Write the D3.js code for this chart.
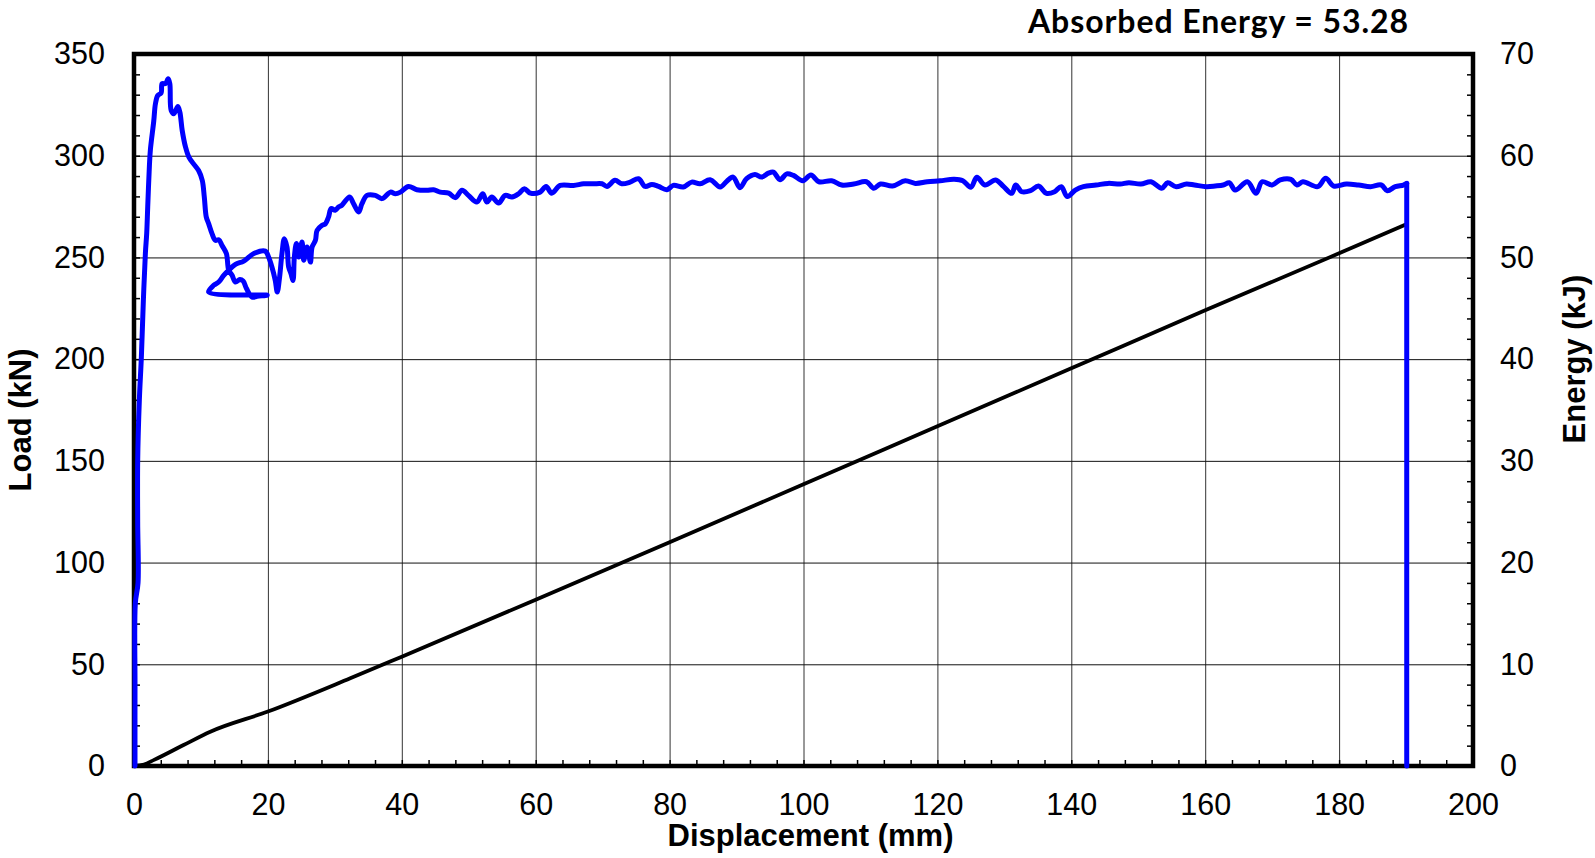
<!DOCTYPE html>
<html>
<head>
<meta charset="utf-8">
<script src="https://cdn.jsdelivr.net/npm/d3@7"></script>
<style>
  html, body { margin: 0; padding: 0; background: #fff; }
  svg { display: block; }
  .tick text { font-family: "Liberation Sans", Arial, sans-serif; }
</style>
</head>
<body>
<svg id="chart" width="1595" height="858"></svg>
<script>
// Load–displacement record (mm, kN)
const displacement = [
  0.15, 0.15, 0.2, 0.6, 0.55, 0.55, 0.8, 1.1, 1.4, 1.7, 1.9, 2.05, 2.3, 2.45, 2.95, 3.2, 3.55, 4.05, 4.2, 4.7,
  5.1, 5.35, 5.55, 5.95, 6.55, 6.85, 7.2, 7.7, 8.2, 8.9, 9.65, 10.2, 10.5, 10.8, 11.15, 11.65, 12.15, 12.65, 13.15, 13.8,
  14.15, 14.65, 15.15, 15.8, 16.3, 16.8, 17.65, 18.4, 19.9, 11.15, 11.9, 12.65, 13.4, 14.15, 15.15, 16.4, 17.9, 19.6, 20.1, 20.6,
  21.1, 21.4, 21.75, 22.1, 22.45, 22.85, 23.1, 23.45, 23.75, 23.95, 24.25, 24.6, 25.1, 25.35, 25.85, 26.35, 26.6, 27.1, 27.35, 28.1,
  28.6, 29.05, 29.45, 30.05, 30.55, 31.05, 32.2, 32.8, 33.55, 34.05, 34.8, 36.05, 37.05, 38.3, 39.05, 39.8, 41, 42.25, 43.75, 44.75,
  45.75, 47, 48, 49, 49.95, 51.2, 52.1, 52.7, 53.45, 54.45, 55.45, 56.45, 57.45, 58.3, 59.2, 60.65, 61.55, 62.4, 63.65, 65.65,
  67.15, 68.65, 69.9, 70.65, 71.85, 72.85, 74.1, 75.35, 76.35, 77.35, 78.35, 79.6, 80.55, 82.05, 83.3, 84.55, 86.05, 87.55, 88.55, 89.5,
  90.5, 91.5, 92.75, 93.75, 94.75, 95.5, 96.5, 97.5, 98.5, 99.9, 101.1, 102.3, 104.2, 105.7, 107.5, 109.4, 110.5, 111.5, 113.3, 115.2,
  116.7, 118.5, 120.4, 122.5, 123.8, 125, 125.9, 127.1, 128.7, 129.9, 131.1, 131.7, 132.6, 133.9, 135.1, 136.3, 137.5, 138.5, 139.4, 140.6,
  141.8, 143.7, 145.5, 147.3, 148.6, 150.4, 151.9, 153.5, 154.4, 155.6, 157.2, 158.4, 160.2, 161.5, 162.7, 163.6, 164.5, 166.3, 167.6, 168.5,
  170, 171.2, 172.8, 173.7, 174.6, 176.8, 178, 179.2, 181.1, 182.9, 184.7, 186.3, 187.2, 188.4, 189.6, 190.1, 190.1
];
const load = [
  0, 40, 80, 90, 120, 150, 180, 201, 229, 252, 262, 275, 295, 303, 317, 325.5, 329.6, 330.8, 335.4, 335.4,
  337.8, 335.4, 322.3, 320.6, 324.2, 321.4, 312.4, 304.2, 299.3, 296, 292.7, 287.8, 279.7, 269.8, 266.6, 261.7, 258.4, 258.7, 255.9, 251.9,
  243.7, 241.2, 237.9, 239.1, 238.4, 234.7, 230.5, 230.9, 231.4, 233, 236.3, 237.9, 241.2, 243.7, 246.6, 248.2, 251.9, 253.1, 250.2, 245.3,
  238.7, 233, 240.4, 251.9, 259.2, 255.1, 245.3, 242, 238.7, 250.2, 256.8, 250.2, 257.6, 248.6, 255.1, 247.7, 255.1, 258.4, 263.3, 265.8,
  266.6, 269.8, 274, 273.2, 274.8, 275.7, 279.7, 276.4, 272.3, 276.4, 280.5, 280.5, 278.9, 282.1, 281.3, 282.1, 284.9, 283.3, 283, 283.3,
  282.1, 281.6, 279.4, 283, 280.5, 277.2, 281.3, 277.2, 279.7, 276.7, 280.5, 279.7, 281.3, 283.8, 281.6, 282.1, 284.9, 281.6, 285.4, 285.4,
  286.2, 286.2, 286.2, 284.9, 287.9, 286.2, 287, 288.7, 284.9, 285.9, 284.9, 283.3, 285.4, 284.6, 287, 286.2, 288.2, 284.6, 287.5, 289.5,
  284.3, 288.7, 290.8, 289.5, 291.4, 291.9, 288.2, 291.1, 290.3, 287.7, 290.5, 287.2, 287.7, 285.6, 286.1, 287.2, 284, 286.1, 285.1, 287.7,
  286.4, 287.2, 287.7, 288.4, 287.7, 284.5, 289.4, 285.6, 288.1, 284.8, 281.5, 285.6, 282.3, 282.8, 285.1, 281.5, 282.3, 284.8, 279.9, 283.1,
  284.8, 285.6, 286.4, 286.1, 286.7, 286.1, 287.2, 284, 286.7, 284.8, 286.1, 285.6, 284.8, 285.1, 285.6, 286.7, 283.1, 287.2, 281.5, 287.2,
  285.6, 288.1, 288.4, 285.6, 287.2, 284.8, 288.9, 285.1, 286.1, 285.6, 284.8, 285.6, 282.8, 284.8, 285.6, 286.4, 0
];

// Absorbed energy (kJ) against displacement (mm)
const energyDisp = [0, 1.5, 3, 7.4, 11.4, 20, 32.3, 40, 60, 80, 100, 120, 140, 160, 180, 190.1];
const energy     = [0, 0.15, 0.6, 2.06, 3.37, 5.35, 8.62, 10.75, 16.35, 22.0, 27.7, 33.4, 39.1, 44.8, 50.4, 53.28];

const absorbedEnergy = 53.28;

// Axis ticks
const xMajor = [0, 20, 40, 60, 80, 100, 120, 140, 160, 180, 200];
const loadMajor = [0, 50, 100, 150, 200, 250, 300, 350];
const energyMajor = [0, 10, 20, 30, 40, 50, 60, 70];

// Plot frame
const L = 134, T = 54, R = 1473, B = 766;
const W = R - L, H = B - T;

const x = d3.scaleLinear().domain([0, 200]).range([0, W]);
const yLoad = d3.scaleLinear().domain([0, 350]).range([H, 0]);
const yEnergy = d3.scaleLinear().domain([0, 70]).range([H, 0]);

const svg = d3.select("#chart");
const g = svg.append("g").attr("transform", `translate(${L},${T})`);

// Grid lines
g.append("g")
  .attr("transform", `translate(0,${H})`)
  .call(d3.axisBottom(x).tickValues(xMajor.slice(1, -1)).tickSize(-H).tickFormat(""))
  .call(s => s.select(".domain").remove())
  .call(s => s.selectAll("line").attr("stroke", "#333").attr("stroke-width", 1));
g.append("g")
  .call(d3.axisLeft(yLoad).tickValues(loadMajor.slice(1, -1)).tickSize(-W).tickFormat(""))
  .call(s => s.select(".domain").remove())
  .call(s => s.selectAll("line").attr("stroke", "#111").attr("stroke-width", 1));

// Minor ticks pointing inward
const minorX = d3.range(0, 201, 4);
const minorLoad = d3.range(0, 351, 10);
const minorEnergy = d3.range(0, 71, 2);
g.append("g")
  .attr("transform", `translate(0,${H})`)
  .call(d3.axisBottom(x).tickValues(minorX).tickSize(-6).tickFormat(""))
  .call(s => s.select(".domain").remove())
  .call(s => s.selectAll("line").attr("stroke", "#000").attr("stroke-width", 1.5));
g.append("g")
  .call(d3.axisLeft(yLoad).tickValues(minorLoad).tickSize(-6).tickFormat(""))
  .call(s => s.select(".domain").remove())
  .call(s => s.selectAll("line").attr("stroke", "#000").attr("stroke-width", 1.5));
g.append("g")
  .attr("transform", `translate(${W},0)`)
  .call(d3.axisRight(yEnergy).tickValues(minorEnergy).tickSize(-6).tickFormat(""))
  .call(s => s.select(".domain").remove())
  .call(s => s.selectAll("line").attr("stroke", "#000").attr("stroke-width", 1.5));

// Frame
g.append("rect")
  .attr("x", 0).attr("y", 0).attr("width", W).attr("height", H)
  .attr("fill", "none").attr("stroke", "#000").attr("stroke-width", 4.5);

// Tick labels
const tickFont = 30.5;
g.append("g")
  .attr("transform", `translate(0,${H})`)
  .call(d3.axisBottom(x).tickValues(xMajor).tickSize(0).tickPadding(27).tickFormat(d3.format("d")))
  .call(s => s.select(".domain").remove())
  .call(s => s.selectAll("text").attr("font-size", tickFont).attr("fill", "#000"));
g.append("g")
  .call(d3.axisLeft(yLoad).tickValues(loadMajor).tickSize(0).tickPadding(29).tickFormat(d3.format("d")))
  .call(s => s.select(".domain").remove())
  .call(s => s.selectAll("text").attr("font-size", tickFont).attr("fill", "#000"));
g.append("g")
  .attr("transform", `translate(${W},0)`)
  .call(d3.axisRight(yEnergy).tickValues(energyMajor).tickSize(0).tickPadding(27).tickFormat(d3.format("d")))
  .call(s => s.select(".domain").remove())
  .call(s => s.selectAll("text").attr("font-size", tickFont).attr("fill", "#000"));

// Energy curve
const energyLine = d3.line()
  .x((d, i) => x(energyDisp[i]))
  .y(d => yEnergy(d))
  .curve(d3.curveMonotoneX);
g.append("path")
  .datum(energy)
  .attr("d", energyLine)
  .attr("fill", "none")
  .attr("stroke", "#000")
  .attr("stroke-width", 3.8)
  .attr("stroke-linejoin", "round")
  .attr("stroke-linecap", "round");

// Load curve: smoothed record, then the straight unloading drop at the end
const loadPts = load.map((v, i) => [displacement[i], v]);
const nDrop = loadPts.length - 2;
const smoothLine = d3.line()
  .x(d => x(d[0]))
  .y(d => yLoad(d[1]))
  .curve(d3.curveCatmullRom.alpha(0.5));
const straightLine = d3.line()
  .x(d => x(d[0]))
  .y(d => yLoad(d[1]));
const loadStyle = s => s
  .attr("fill", "none")
  .attr("stroke", "#0000ff")
  .attr("stroke-width", 5)
  .attr("stroke-linejoin", "round")
  .attr("stroke-linecap", "round");
g.append("path").datum(loadPts.slice(0, nDrop + 1)).attr("d", smoothLine).call(loadStyle);
g.append("path").datum(loadPts.slice(nDrop)).attr("d", straightLine).call(loadStyle);

// Axis titles
const titleFont = '"Liberation Sans", Arial, sans-serif';
svg.append("text")
  .attr("x", (L + R) / 2 + 7).attr("y", 846)
  .attr("text-anchor", "middle")
  .attr("font-family", titleFont).attr("font-weight", "bold").attr("font-size", 31)
  .text("Displacement (mm)");
svg.append("text")
  .attr("transform", "translate(31,420) rotate(-90)")
  .attr("text-anchor", "middle")
  .attr("font-family", titleFont).attr("font-weight", "bold").attr("font-size", 31)
  .text("Load (kN)");
svg.append("text")
  .attr("transform", "translate(1585,359) rotate(-90)")
  .attr("text-anchor", "middle")
  .attr("font-family", titleFont).attr("font-weight", "bold").attr("font-size", 31)
  .text("Energy (kJ)");

// Absorbed energy annotation, spread to its slot width
const noteText = `Absorbed Energy = ${absorbedEnergy.toFixed(2)}`;
const note = svg.append("text")
  .attr("x", 1028).attr("y", 33)
  .attr("font-family", "Lato, 'Open Sans', sans-serif").attr("font-weight", "bold").attr("font-size", 32)
  .text(noteText);
const wNote = note.node().getComputedTextLength();
note.attr("letter-spacing", (380 - wNote) / (noteText.length - 1));
</script>
</body>
</html>
